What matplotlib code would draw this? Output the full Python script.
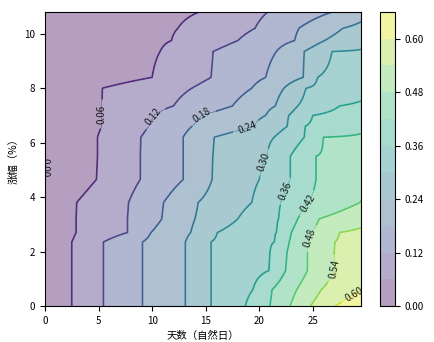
import numpy as np
import matplotlib.pyplot as plt

plt.rcParams['font.family'] = ['Noto Sans CJK SC', 'DejaVu Sans']

# 涨幅（%）方向的行
rise_rows = [0, 0.6, 1.3, 2.0, 2.35, 2.7, 3.2, 3.8, 4.65, 5.5, 6.2, 6.6,
             7.0, 7.35, 8.0, 8.4, 9.35, 9.75, 10.2, 10.8]

# 等值线的值
line_vals = [0.06, 0.12, 0.18, 0.24, 0.30, 0.36, 0.42, 0.48, 0.54, 0.60]

# 每一行上，各等值线所在的天数
day_cross = [
    [2.5, 5.45, 9.1, 13.1, 15.5, 18.7, 21.0, 22.9, 24.8, 27.1],
    [2.5, 5.45, 9.1, 13.1, 15.5, 19.4, 21.2, 23.5, 25.8],
    [2.5, 5.45, 9.1, 13.1, 15.5, 20.9, 22.45, 24.5, 27.0],
    [2.5, 5.45, 9.1, 13.1, 15.5, 21.0, 22.6, 24.5, 27.0],
    [2.5, 5.45, 9.1, 13.1, 15.5, 21.4, 22.8, 24.6, 27.05],
    [2.9, 7.7, 9.9, 13.6, 16.1, 21.6, 23.0, 24.9, 27.5],
    [2.9, 7.7, 10.9, 14.0, 18.0, 21.8, 23.6, 25.6],
    [2.95, 7.8, 11.07, 14.3, 19.3, 22.0, 24.6, 29.4],
    [4.8, 8.9, 12.9, 15.6, 20.0, 22.9, 25.3],
    [4.9, 8.9, 12.9, 15.65, 20.7, 22.9, 25.3],
    [4.9, 8.95, 12.9, 15.8, 21.4, 24.2, 26.0],
    [5.3, 9.7, 13.7, 19.5, 22.6, 24.3],
    [5.3, 10.2, 14.6, 20.6, 22.75, 25.0],
    [5.3, 12.0, 17.5, 21.5, 23.6, 27.5],
    [5.35, 13.7, 19.3, 22.3, 24.35],
    [10.0, 15.5, 20.6, 24.1, 25.45],
    [10.75, 15.7, 21.6, 24.2, 26.8],
    [11.8, 18.0, 23.3, 26.1],
    [12.4, 19.6, 23.7, 27.8],
    [14.4, 20.8, 26.8],
]

# 右边界（最后一天）的值
edge_val = [0.64, 0.598, 0.58, 0.57, 0.56, 0.55, 0.52, 0.482, 0.46, 0.44,
            0.425, 0.41, 0.39, 0.366, 0.344, 0.332, 0.304, 0.282, 0.253, 0.22]

day_max = 29.5

# 标签位置
label_pos = [(0.2, 5.1), (5.4, 7.05), (9.9, 7.0), (14.6, 7.05), (19.0, 6.35),
             (20.9, 5.2), (22.5, 4.2), (24.4, 3.8), (24.7, 2.5), (26.9, 1.35),
             (28.8, 0.45)]

days = np.linspace(0, day_max, 296)
Z = []
for c, e in zip(day_cross, edge_val):
    xp = [0] + c + [day_max]
    fp = [0] + line_vals[:len(c)] + [e]
    Z.append(np.interp(days, xp, fp))
Z = np.array(Z)

levels = [0.00, 0.06, 0.12, 0.18, 0.24, 0.30, 0.36, 0.42, 0.48, 0.54, 0.60, 0.66]

fig = plt.figure(figsize=(4.35, 3.42), dpi=100)
ax = fig.add_axes([45/435, 36/342, 316/435, 294/342])
cax = fig.add_axes([380/435, 36/342, 15/435, 294/342])

cf = ax.contourf(days, rise_rows, Z, levels=levels, cmap='viridis', alpha=0.4)
cs = ax.contour(days, rise_rows, Z, levels=levels, cmap='viridis',
                linewidths=1.2, alpha=0.85)
ax.clabel(cs, fmt='%.2f', fontsize=7, colors='k', manual=label_pos)

ax.set_xlabel('天数（自然日）', fontsize=7.5)
ax.set_ylabel('涨幅（%）', fontsize=7.5)
ax.tick_params(labelsize=7)

cb = fig.colorbar(cf, cax=cax, ticks=[0.00, 0.12, 0.24, 0.36, 0.48, 0.60], format='%.2f')
cb.ax.tick_params(labelsize=7)

fig.savefig('out.png', dpi=100)
